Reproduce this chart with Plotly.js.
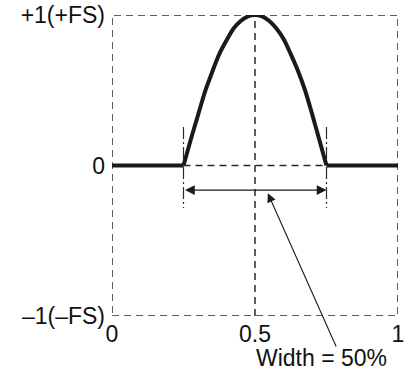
<!DOCTYPE html>
<html>
<head>
<meta charset="utf-8">
<script src="https://cdn.plot.ly/plotly-3.0.1.min.js"></script>
<style>html,body{margin:0;padding:0;background:#fff;}#chart{width:406px;height:381px;}</style>
</head>
<body>
<div id="chart"></div>
<script>
// Waveform (normalised time 0..1, amplitude -1..+1)
var timeValues = [0, 0.25, 0.275, 0.30, 0.325, 0.35, 0.375, 0.40, 0.425, 0.45, 0.475, 0.50, 0.525, 0.55, 0.575, 0.60, 0.625, 0.65, 0.675, 0.70, 0.725, 0.75, 1];
var amplitudeValues = [0, 0, 0.17, 0.33, 0.49, 0.62, 0.74, 0.83, 0.91, 0.96, 0.99, 1.0, 0.99, 0.96, 0.91, 0.84, 0.74, 0.63, 0.50, 0.34, 0.17, 0, 0];

var xTickVals = [0, 0.5, 1];
var xTickText = ['0', '0.5', '1'];
var yTickVals = [1, 0, -1];
var yTickText = ['+1(+FS)', '0', '–1(–FS)'];

var pulseStart = 0.25, pulseEnd = 0.75, pulseCentre = 0.5;
var widthLabel = 'Width = 50%';

var dashCol = '#2a2a2a';
var lineCol = '#1a1a1a';
var font = {family: 'Liberation Sans, Arial, sans-serif', size: 23, color: '#111111'};

var iStart = timeValues.indexOf(pulseStart);
var iEnd = timeValues.indexOf(pulseEnd);

function seg(i0, i1, shape) {
  return {
    x: timeValues.slice(i0, i1 + 1), y: amplitudeValues.slice(i0, i1 + 1),
    type: 'scatter', mode: 'lines',
    line: {color: lineCol, width: 4, shape: shape, smoothing: 0.8},
    cliponaxis: false, hoverinfo: 'skip'
  };
}
var traces = [
  seg(0, iStart, 'linear'),
  seg(iStart, iEnd, 'spline'),
  seg(iEnd, timeValues.length - 1, 'linear')
];

var dashed = {color: dashCol, width: 1.5, dash: '7px,5px'};
var dashDot = {color: dashCol, width: 1.2, dash: '12px,3px,2px,3px'};
var shapes = [
  {type: 'rect', xref: 'x', yref: 'y', x0: 0, x1: 1, y0: -1, y1: 1, layer: 'below', line: dashed},
  {type: 'line', xref: 'x', yref: 'y', x0: pulseCentre, x1: pulseCentre, y0: -1, y1: 1, layer: 'below', line: dashed},
  {type: 'line', xref: 'x', yref: 'y', x0: pulseStart, x1: pulseEnd, y0: 0, y1: 0, layer: 'below', line: dashed},
  {type: 'line', xref: 'x', yref: 'y', x0: pulseStart, x1: pulseStart, y0: 0.256, y1: -0.282, layer: 'below', line: dashDot},
  {type: 'line', xref: 'x', yref: 'y', x0: pulseEnd, x1: pulseEnd, y0: 0.256, y1: -0.282, layer: 'below', line: dashDot}
];

var annotations = [
  // double-headed width arrow
  {xref: 'x', yref: 'y', axref: 'x', ayref: 'y', x: pulseEnd, y: -0.163, ax: pulseStart, ay: -0.163,
   text: '', showarrow: true, arrowside: 'end+start', arrowhead: 2, arrowsize: 1.5, arrowwidth: 1.3, arrowcolor: lineCol},
  // pointer from label to arrow
  {xref: 'x', yref: 'y', axref: 'x', ayref: 'y', x: 0.545, y: -0.185, ax: 0.786, ay: -1.213,
   text: '', showarrow: true, arrowhead: 2, arrowsize: 1.6, arrowwidth: 1.1, arrowcolor: lineCol},
  {xref: 'paper', yref: 'paper', x: 0.731, y: -0.139, text: widthLabel, showarrow: false,
   xanchor: 'center', yanchor: 'middle', font: font}
];

var layout = {
  width: 406, height: 381,
  margin: {l: 112, r: 8, t: 15, b: 65, pad: 0},
  paper_bgcolor: '#ffffff', plot_bgcolor: '#ffffff',
  showlegend: false,
  font: font,
  xaxis: {range: [0, 1], tickvals: xTickVals, ticktext: xTickText, showgrid: false, zeroline: false,
          showline: false, ticks: '', tickfont: font, fixedrange: true, ticklabelstandoff: 2},
  yaxis: {range: [-1, 1], tickvals: yTickVals, ticktext: yTickText, showgrid: false, zeroline: false,
          showline: false, ticks: '', tickfont: font, fixedrange: true, ticklabelstandoff: 6},
  shapes: shapes,
  annotations: annotations
};

Plotly.newPlot('chart', traces, layout, {displayModeBar: false, staticPlot: true});
</script>
</body>
</html>
